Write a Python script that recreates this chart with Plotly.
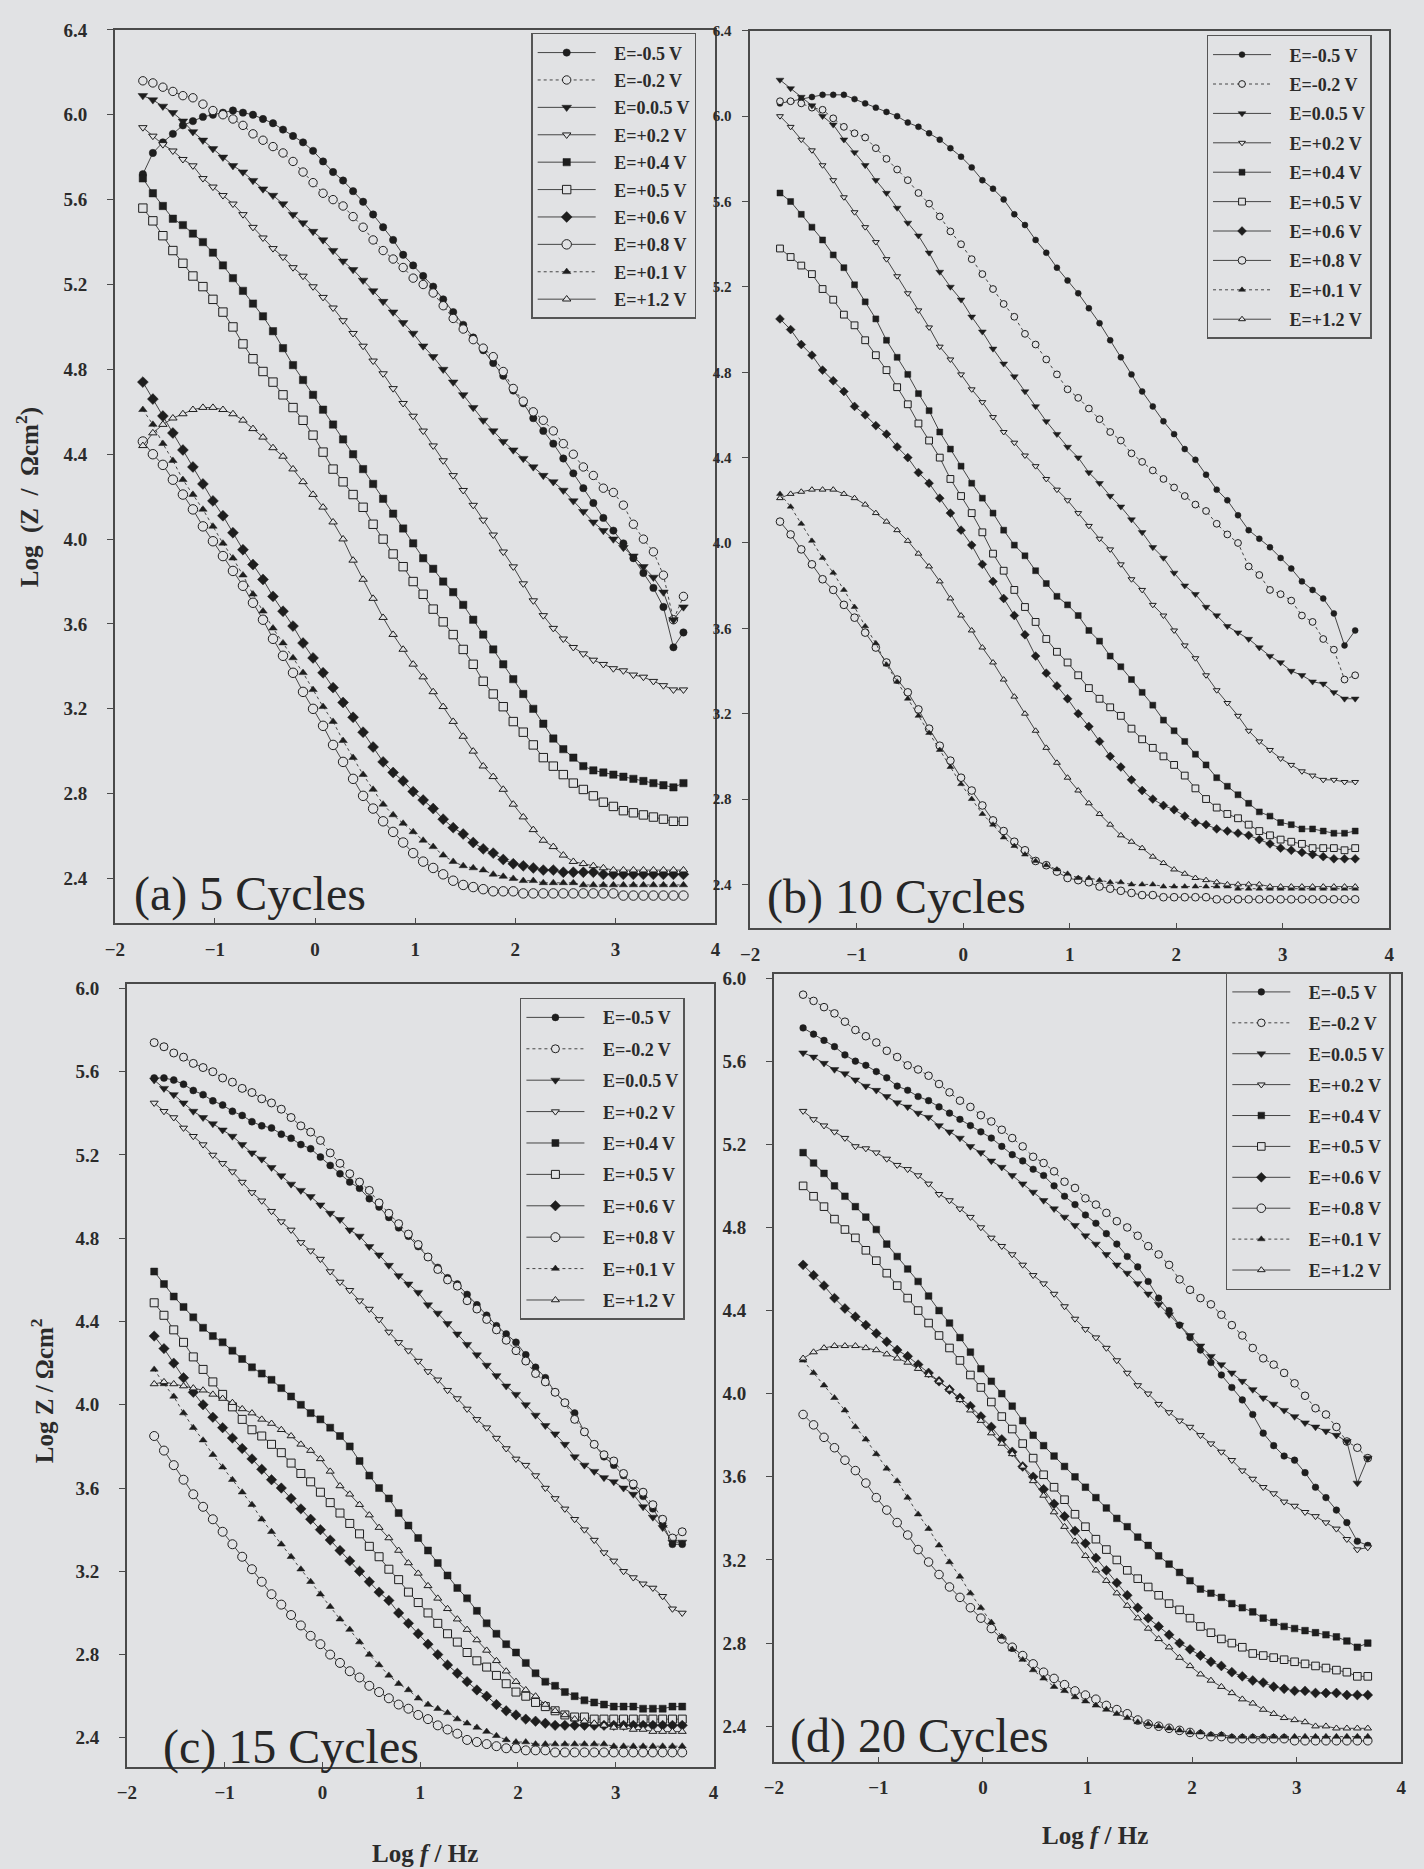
import plotly.graph_objects as go

# ---------------- data ----------------
LOG_F = [-1.72, -1.62, -1.52, -1.42, -1.32, -1.22, -1.12, -1.02, -0.92, -0.82, -0.72,
         -0.62, -0.52, -0.42, -0.32, -0.22, -0.12, -0.02, 0.08, 0.18, 0.28, 0.38,
         0.48, 0.58, 0.68, 0.78, 0.88, 0.98, 1.08, 1.18, 1.28, 1.38, 1.48,
         1.58, 1.68, 1.78, 1.88, 1.98, 2.08, 2.18, 2.28, 2.38, 2.48, 2.58,
         2.68, 2.78, 2.88, 2.98, 3.08, 3.18, 3.28, 3.38, 3.48, 3.58, 3.68]

LABELS = ["E=-0.5 V", "E=-0.2 V", "E=0.0.5 V", "E=+0.2 V", "E=+0.4 V",
          "E=+0.5 V", "E=+0.6 V", "E=+0.8 V", "E=+0.1 V", "E=+1.2 V"]

# (a) 5 cycles
A_M05 = [5.72, 5.82, 5.87, 5.91, 5.95, 5.97, 5.99, 6.00, 6.01, 6.02, 6.01,
         6.00, 5.98, 5.96, 5.93, 5.90, 5.87, 5.83, 5.78, 5.73, 5.69, 5.64,
         5.59, 5.53, 5.47, 5.41, 5.34, 5.29, 5.24, 5.19, 5.13, 5.07, 5.01,
         4.95, 4.89, 4.83, 4.77, 4.70, 4.64, 4.57, 4.51, 4.45, 4.38, 4.31,
         4.24, 4.17, 4.10, 4.04, 3.98, 3.91, 3.84, 3.77, 3.68, 3.49, 3.56]
A_M02 = [6.16, 6.15, 6.13, 6.11, 6.09, 6.08, 6.05, 6.02, 6.00, 5.98, 5.95,
         5.91, 5.88, 5.85, 5.82, 5.78, 5.73, 5.68, 5.63, 5.60, 5.57, 5.52,
         5.47, 5.41, 5.36, 5.32, 5.28, 5.23, 5.20, 5.16, 5.10, 5.04, 4.99,
         4.94, 4.90, 4.86, 4.79, 4.71, 4.65, 4.60, 4.56, 4.51, 4.45, 4.40,
         4.34, 4.30, 4.24, 4.22, 4.16, 4.07, 4.00, 3.94, 3.83, 3.62, 3.73]
A_005 = [6.09, 6.07, 6.04, 6.01, 5.97, 5.92, 5.88, 5.84, 5.80, 5.76, 5.73,
         5.69, 5.65, 5.62, 5.58, 5.53, 5.49, 5.45, 5.41, 5.36, 5.31, 5.27,
         5.22, 5.17, 5.12, 5.07, 5.02, 4.97, 4.91, 4.86, 4.80, 4.74, 4.68,
         4.62, 4.56, 4.51, 4.46, 4.42, 4.38, 4.34, 4.30, 4.27, 4.23, 4.18,
         4.13, 4.08, 4.04, 4.00, 3.96, 3.92, 3.87, 3.82, 3.75, 3.62, 3.68]
A_P02 = [5.94, 5.90, 5.86, 5.83, 5.79, 5.76, 5.70, 5.66, 5.62, 5.58, 5.53,
         5.47, 5.42, 5.37, 5.33, 5.28, 5.24, 5.19, 5.14, 5.09, 5.03, 4.97,
         4.91, 4.84, 4.78, 4.71, 4.64, 4.58, 4.51, 4.44, 4.37, 4.30, 4.23,
         4.16, 4.09, 4.02, 3.94, 3.87, 3.79, 3.71, 3.64, 3.58, 3.53, 3.49,
         3.46, 3.43, 3.41, 3.39, 3.38, 3.36, 3.35, 3.33, 3.31, 3.29, 3.29]
A_P04 = [5.70, 5.63, 5.57, 5.51, 5.48, 5.44, 5.40, 5.35, 5.29, 5.23, 5.17,
         5.11, 5.05, 4.98, 4.90, 4.82, 4.75, 4.68, 4.61, 4.54, 4.47, 4.40,
         4.33, 4.26, 4.19, 4.12, 4.05, 3.98, 3.91, 3.86, 3.80, 3.75, 3.69,
         3.62, 3.55, 3.48, 3.41, 3.34, 3.27, 3.20, 3.13, 3.06, 3.01, 2.97,
         2.93, 2.91, 2.90, 2.89, 2.88, 2.87, 2.86, 2.85, 2.84, 2.83, 2.85]
A_P05 = [5.56, 5.50, 5.43, 5.36, 5.30, 5.24, 5.19, 5.13, 5.07, 5.00, 4.92,
         4.85, 4.79, 4.74, 4.68, 4.62, 4.56, 4.49, 4.41, 4.33, 4.27, 4.21,
         4.15, 4.07, 4.00, 3.93, 3.87, 3.80, 3.74, 3.67, 3.61, 3.55, 3.48,
         3.41, 3.33, 3.27, 3.21, 3.14, 3.09, 3.03, 2.97, 2.93, 2.89, 2.85,
         2.82, 2.79, 2.76, 2.74, 2.72, 2.71, 2.70, 2.69, 2.68, 2.67, 2.67]
A_P06 = [4.74, 4.66, 4.58, 4.50, 4.42, 4.34, 4.26, 4.18, 4.11, 4.03, 3.95,
         3.88, 3.81, 3.73, 3.66, 3.59, 3.51, 3.44, 3.37, 3.30, 3.23, 3.16,
         3.09, 3.02, 2.95, 2.90, 2.86, 2.81, 2.77, 2.73, 2.68, 2.64, 2.61,
         2.57, 2.54, 2.52, 2.49, 2.47, 2.46, 2.45, 2.44, 2.44, 2.43, 2.43,
         2.43, 2.43, 2.42, 2.42, 2.42, 2.42, 2.42, 2.42, 2.42, 2.42, 2.42]
A_P08 = [4.46, 4.40, 4.35, 4.28, 4.21, 4.14, 4.06, 3.99, 3.92, 3.85, 3.78,
         3.70, 3.62, 3.53, 3.45, 3.37, 3.28, 3.20, 3.12, 3.03, 2.95, 2.87,
         2.79, 2.73, 2.67, 2.62, 2.57, 2.52, 2.48, 2.45, 2.42, 2.39, 2.37,
         2.36, 2.35, 2.34, 2.34, 2.34, 2.33, 2.33, 2.33, 2.33, 2.33, 2.33,
         2.33, 2.33, 2.33, 2.33, 2.32, 2.32, 2.32, 2.32, 2.32, 2.32, 2.32]
A_P01 = [4.61, 4.54, 4.45, 4.37, 4.28, 4.21, 4.14, 4.06, 3.98, 3.91, 3.83,
         3.74, 3.66, 3.58, 3.51, 3.44, 3.37, 3.29, 3.21, 3.14, 3.05, 2.97,
         2.89, 2.82, 2.75, 2.70, 2.66, 2.62, 2.58, 2.55, 2.51, 2.48, 2.46,
         2.45, 2.44, 2.42, 2.41, 2.40, 2.39, 2.39, 2.38, 2.38, 2.38, 2.38,
         2.37, 2.37, 2.37, 2.37, 2.37, 2.37, 2.37, 2.37, 2.37, 2.37, 2.37]
A_P12 = [4.44, 4.50, 4.54, 4.57, 4.59, 4.61, 4.62, 4.62, 4.61, 4.59, 4.56,
         4.52, 4.48, 4.43, 4.39, 4.33, 4.27, 4.21, 4.15, 4.08, 4.00, 3.90,
         3.81, 3.72, 3.63, 3.55, 3.48, 3.41, 3.35, 3.28, 3.21, 3.14, 3.07,
         3.00, 2.93, 2.88, 2.82, 2.75, 2.69, 2.63, 2.58, 2.55, 2.51, 2.48,
         2.47, 2.46, 2.45, 2.44, 2.44, 2.44, 2.44, 2.44, 2.44, 2.44, 2.44]

# (b) 10 cycles
B_M05 = [6.06, 6.07, 6.08, 6.09, 6.10, 6.10, 6.10, 6.08, 6.06, 6.04, 6.02,
         6.00, 5.97, 5.95, 5.92, 5.89, 5.85, 5.81, 5.76, 5.70, 5.66, 5.61,
         5.54, 5.49, 5.42, 5.36, 5.29, 5.23, 5.17, 5.10, 5.03, 4.95, 4.87,
         4.79, 4.71, 4.64, 4.57, 4.51, 4.44, 4.39, 4.32, 4.25, 4.20, 4.13,
         4.06, 4.02, 3.98, 3.93, 3.88, 3.82, 3.78, 3.74, 3.67, 3.52, 3.59]
B_M02 = [6.07, 6.07, 6.06, 6.04, 6.03, 5.99, 5.95, 5.92, 5.90, 5.85, 5.80,
         5.75, 5.70, 5.64, 5.59, 5.53, 5.46, 5.40, 5.33, 5.26, 5.19, 5.12,
         5.06, 4.98, 4.93, 4.86, 4.79, 4.72, 4.68, 4.63, 4.58, 4.52, 4.48,
         4.42, 4.38, 4.34, 4.30, 4.26, 4.22, 4.18, 4.15, 4.09, 4.04, 4.00,
         3.89, 3.85, 3.78, 3.76, 3.73, 3.66, 3.63, 3.55, 3.50, 3.36, 3.38]
B_005 = [6.17, 6.13, 6.09, 6.05, 6.00, 5.96, 5.89, 5.83, 5.77, 5.70, 5.64,
         5.57, 5.50, 5.44, 5.36, 5.27, 5.20, 5.14, 5.06, 4.99, 4.91, 4.84,
         4.78, 4.71, 4.64, 4.57, 4.51, 4.45, 4.40, 4.33, 4.28, 4.22, 4.17,
         4.11, 4.05, 3.98, 3.93, 3.86, 3.80, 3.76, 3.70, 3.66, 3.61, 3.58,
         3.55, 3.51, 3.47, 3.44, 3.40, 3.38, 3.35, 3.34, 3.30, 3.27, 3.27]
B_P02 = [6.00, 5.95, 5.89, 5.84, 5.77, 5.70, 5.62, 5.55, 5.48, 5.41, 5.33,
         5.25, 5.17, 5.09, 5.01, 4.92, 4.86, 4.79, 4.72, 4.66, 4.59, 4.52,
         4.47, 4.41, 4.36, 4.30, 4.25, 4.20, 4.14, 4.08, 4.02, 3.97, 3.90,
         3.83, 3.78, 3.71, 3.66, 3.59, 3.52, 3.46, 3.38, 3.31, 3.25, 3.19,
         3.12, 3.07, 3.03, 2.99, 2.96, 2.93, 2.91, 2.89, 2.89, 2.88, 2.88]
B_P04 = [5.64, 5.60, 5.54, 5.48, 5.42, 5.35, 5.29, 5.21, 5.13, 5.05, 4.95,
         4.87, 4.79, 4.70, 4.62, 4.52, 4.44, 4.36, 4.28, 4.21, 4.14, 4.06,
         3.99, 3.94, 3.87, 3.81, 3.75, 3.71, 3.66, 3.59, 3.54, 3.47, 3.42,
         3.36, 3.30, 3.24, 3.17, 3.12, 3.07, 3.01, 2.96, 2.90, 2.86, 2.82,
         2.78, 2.74, 2.72, 2.69, 2.68, 2.66, 2.66, 2.65, 2.64, 2.64, 2.65]
B_P05 = [5.38, 5.34, 5.30, 5.26, 5.19, 5.14, 5.07, 5.02, 4.95, 4.88, 4.81,
         4.73, 4.65, 4.56, 4.48, 4.40, 4.30, 4.22, 4.14, 4.05, 3.95, 3.87,
         3.78, 3.70, 3.63, 3.55, 3.49, 3.44, 3.38, 3.32, 3.27, 3.23, 3.19,
         3.13, 3.08, 3.04, 3.00, 2.96, 2.91, 2.85, 2.80, 2.76, 2.73, 2.71,
         2.68, 2.65, 2.63, 2.61, 2.60, 2.59, 2.57, 2.57, 2.57, 2.56, 2.57]
B_P06 = [5.05, 5.00, 4.93, 4.88, 4.81, 4.76, 4.71, 4.64, 4.60, 4.55, 4.51,
         4.45, 4.40, 4.33, 4.28, 4.21, 4.14, 4.06, 3.99, 3.90, 3.82, 3.74,
         3.66, 3.57, 3.47, 3.39, 3.33, 3.27, 3.20, 3.14, 3.07, 3.00, 2.95,
         2.89, 2.84, 2.80, 2.77, 2.75, 2.72, 2.69, 2.68, 2.66, 2.65, 2.64,
         2.63, 2.61, 2.59, 2.57, 2.56, 2.55, 2.54, 2.53, 2.52, 2.52, 2.52]
B_P08 = [4.10, 4.04, 3.97, 3.90, 3.83, 3.78, 3.71, 3.65, 3.58, 3.51, 3.44,
         3.36, 3.30, 3.22, 3.13, 3.05, 2.98, 2.90, 2.84, 2.77, 2.70, 2.65,
         2.60, 2.56, 2.51, 2.49, 2.46, 2.43, 2.42, 2.41, 2.39, 2.38, 2.37,
         2.36, 2.35, 2.35, 2.34, 2.34, 2.34, 2.34, 2.34, 2.33, 2.33, 2.33,
         2.33, 2.33, 2.33, 2.33, 2.33, 2.33, 2.33, 2.33, 2.33, 2.33, 2.33]
B_P01 = [4.23, 4.17, 4.09, 4.01, 3.93, 3.86, 3.78, 3.70, 3.61, 3.53, 3.43,
         3.35, 3.27, 3.19, 3.11, 3.03, 2.95, 2.87, 2.80, 2.73, 2.68, 2.62,
         2.58, 2.54, 2.51, 2.49, 2.47, 2.45, 2.43, 2.43, 2.42, 2.41, 2.41,
         2.40, 2.40, 2.40, 2.39, 2.39, 2.39, 2.39, 2.39, 2.39, 2.39, 2.38,
         2.38, 2.38, 2.38, 2.38, 2.38, 2.38, 2.38, 2.38, 2.38, 2.38, 2.38]
B_P12 = [4.21, 4.23, 4.24, 4.25, 4.25, 4.25, 4.23, 4.21, 4.18, 4.14, 4.10,
         4.06, 4.01, 3.95, 3.89, 3.82, 3.74, 3.66, 3.59, 3.51, 3.44, 3.36,
         3.28, 3.20, 3.12, 3.04, 2.97, 2.90, 2.84, 2.78, 2.73, 2.68, 2.63,
         2.60, 2.57, 2.53, 2.50, 2.47, 2.45, 2.43, 2.42, 2.41, 2.40, 2.40,
         2.40, 2.40, 2.39, 2.39, 2.39, 2.39, 2.39, 2.39, 2.39, 2.39, 2.39]

# (c) 15 cycles
C_M05 = [5.57, 5.57, 5.56, 5.54, 5.51, 5.49, 5.46, 5.44, 5.41, 5.39, 5.36,
         5.34, 5.33, 5.30, 5.28, 5.25, 5.23, 5.19, 5.15, 5.11, 5.07, 5.04,
         4.99, 4.95, 4.90, 4.85, 4.81, 4.76, 4.71, 4.66, 4.61, 4.58, 4.53,
         4.48, 4.43, 4.38, 4.34, 4.30, 4.24, 4.18, 4.13, 4.06, 4.01, 3.96,
         3.87, 3.81, 3.75, 3.71, 3.66, 3.61, 3.56, 3.50, 3.43, 3.33, 3.33]
C_M02 = [5.74, 5.72, 5.69, 5.67, 5.64, 5.62, 5.60, 5.57, 5.55, 5.52, 5.50,
         5.47, 5.45, 5.42, 5.38, 5.34, 5.31, 5.27, 5.21, 5.16, 5.11, 5.07,
         5.03, 4.97, 4.92, 4.87, 4.82, 4.77, 4.71, 4.65, 4.60, 4.57, 4.50,
         4.46, 4.41, 4.36, 4.31, 4.26, 4.21, 4.15, 4.11, 4.06, 4.01, 3.93,
         3.87, 3.81, 3.76, 3.73, 3.67, 3.62, 3.58, 3.52, 3.45, 3.36, 3.39]
C_005 = [5.56, 5.52, 5.49, 5.45, 5.41, 5.38, 5.35, 5.32, 5.29, 5.25, 5.21,
         5.18, 5.14, 5.10, 5.06, 5.03, 5.00, 4.96, 4.92, 4.89, 4.84, 4.81,
         4.76, 4.72, 4.67, 4.62, 4.58, 4.54, 4.48, 4.44, 4.39, 4.34, 4.29,
         4.24, 4.19, 4.14, 4.09, 4.05, 4.00, 3.95, 3.90, 3.86, 3.81, 3.75,
         3.71, 3.68, 3.65, 3.63, 3.60, 3.57, 3.51, 3.46, 3.41, 3.34, 3.34]
C_P02 = [5.45, 5.41, 5.38, 5.33, 5.29, 5.25, 5.20, 5.16, 5.12, 5.07, 5.02,
         4.98, 4.93, 4.88, 4.84, 4.78, 4.74, 4.70, 4.64, 4.59, 4.55, 4.50,
         4.46, 4.41, 4.35, 4.30, 4.26, 4.21, 4.16, 4.12, 4.07, 4.03, 3.98,
         3.93, 3.89, 3.84, 3.79, 3.74, 3.71, 3.66, 3.60, 3.55, 3.50, 3.45,
         3.40, 3.35, 3.29, 3.25, 3.20, 3.17, 3.14, 3.12, 3.08, 3.02, 3.00]
C_P04 = [4.64, 4.58, 4.52, 4.47, 4.42, 4.37, 4.33, 4.30, 4.26, 4.22, 4.18,
         4.15, 4.12, 4.08, 4.04, 4.00, 3.96, 3.93, 3.89, 3.85, 3.80, 3.73,
         3.66, 3.60, 3.55, 3.48, 3.42, 3.36, 3.30, 3.24, 3.18, 3.12, 3.07,
         3.01, 2.95, 2.90, 2.85, 2.81, 2.76, 2.71, 2.67, 2.65, 2.62, 2.60,
         2.58, 2.57, 2.56, 2.55, 2.55, 2.55, 2.54, 2.54, 2.54, 2.55, 2.55]
C_P05 = [4.49, 4.43, 4.36, 4.30, 4.23, 4.17, 4.11, 4.05, 3.99, 3.93, 3.88,
         3.85, 3.81, 3.77, 3.72, 3.67, 3.63, 3.58, 3.53, 3.48, 3.43, 3.38,
         3.32, 3.27, 3.21, 3.16, 3.10, 3.05, 3.00, 2.95, 2.90, 2.86, 2.81,
         2.77, 2.74, 2.70, 2.66, 2.62, 2.60, 2.57, 2.55, 2.53, 2.51, 2.50,
         2.50, 2.49, 2.49, 2.49, 2.49, 2.49, 2.49, 2.49, 2.49, 2.49, 2.49]
C_P06 = [4.33, 4.27, 4.20, 4.13, 4.06, 4.00, 3.94, 3.89, 3.84, 3.79, 3.74,
         3.69, 3.64, 3.60, 3.55, 3.50, 3.45, 3.40, 3.35, 3.30, 3.25, 3.20,
         3.15, 3.10, 3.06, 3.00, 2.95, 2.90, 2.85, 2.80, 2.75, 2.71, 2.67,
         2.63, 2.60, 2.56, 2.53, 2.51, 2.49, 2.48, 2.47, 2.46, 2.46, 2.46,
         2.46, 2.46, 2.46, 2.46, 2.46, 2.46, 2.46, 2.46, 2.46, 2.46, 2.46]
C_P08 = [3.85, 3.78, 3.71, 3.64, 3.57, 3.51, 3.45, 3.39, 3.33, 3.27, 3.21,
         3.15, 3.09, 3.04, 2.99, 2.94, 2.89, 2.85, 2.80, 2.76, 2.72, 2.69,
         2.65, 2.62, 2.59, 2.56, 2.54, 2.51, 2.49, 2.46, 2.44, 2.42, 2.39,
         2.38, 2.37, 2.36, 2.35, 2.35, 2.34, 2.34, 2.34, 2.33, 2.33, 2.33,
         2.33, 2.33, 2.33, 2.33, 2.33, 2.33, 2.33, 2.33, 2.33, 2.33, 2.33]
C_P01 = [4.17, 4.10, 4.04, 3.96, 3.89, 3.83, 3.76, 3.70, 3.64, 3.58, 3.52,
         3.45, 3.39, 3.33, 3.27, 3.21, 3.15, 3.09, 3.03, 2.97, 2.92, 2.86,
         2.80, 2.75, 2.70, 2.66, 2.63, 2.59, 2.56, 2.54, 2.52, 2.49, 2.47,
         2.45, 2.43, 2.41, 2.39, 2.38, 2.38, 2.37, 2.37, 2.37, 2.37, 2.37,
         2.37, 2.37, 2.37, 2.36, 2.36, 2.36, 2.36, 2.36, 2.36, 2.36, 2.36]
C_P12 = [4.10, 4.11, 4.10, 4.09, 4.08, 4.07, 4.05, 4.03, 4.01, 3.98, 3.96,
         3.93, 3.91, 3.88, 3.85, 3.81, 3.78, 3.74, 3.68, 3.61, 3.57, 3.52,
         3.47, 3.41, 3.36, 3.30, 3.24, 3.19, 3.13, 3.07, 3.02, 2.97, 2.92,
         2.87, 2.82, 2.77, 2.72, 2.67, 2.63, 2.60, 2.56, 2.53, 2.51, 2.49,
         2.48, 2.47, 2.46, 2.45, 2.45, 2.44, 2.44, 2.43, 2.43, 2.43, 2.43]

# (d) 20 cycles
D_M05 = [5.76, 5.73, 5.70, 5.67, 5.63, 5.60, 5.58, 5.55, 5.52, 5.48, 5.46,
         5.43, 5.41, 5.38, 5.35, 5.32, 5.29, 5.26, 5.23, 5.19, 5.15, 5.12,
         5.08, 5.05, 5.00, 4.95, 4.91, 4.86, 4.82, 4.77, 4.72, 4.66, 4.61,
         4.54, 4.46, 4.40, 4.33, 4.27, 4.21, 4.15, 4.09, 4.03, 3.97, 3.90,
         3.81, 3.75, 3.70, 3.68, 3.62, 3.55, 3.50, 3.44, 3.38, 3.29, 3.27]
D_M02 = [5.92, 5.89, 5.86, 5.83, 5.79, 5.75, 5.72, 5.69, 5.65, 5.62, 5.58,
         5.56, 5.53, 5.49, 5.45, 5.41, 5.38, 5.34, 5.31, 5.27, 5.23, 5.19,
         5.14, 5.11, 5.07, 5.02, 4.99, 4.94, 4.91, 4.87, 4.83, 4.80, 4.76,
         4.71, 4.67, 4.62, 4.55, 4.50, 4.46, 4.43, 4.38, 4.33, 4.28, 4.22,
         4.17, 4.14, 4.10, 4.05, 3.99, 3.93, 3.90, 3.84, 3.77, 3.74, 3.69]
D_005 = [5.64, 5.62, 5.59, 5.56, 5.54, 5.51, 5.48, 5.46, 5.43, 5.40, 5.38,
         5.35, 5.33, 5.29, 5.26, 5.23, 5.19, 5.16, 5.12, 5.09, 5.05, 5.01,
         4.97, 4.93, 4.89, 4.85, 4.81, 4.76, 4.72, 4.67, 4.62, 4.58, 4.53,
         4.48, 4.43, 4.38, 4.33, 4.28, 4.23, 4.18, 4.14, 4.10, 4.06, 4.02,
         3.98, 3.95, 3.92, 3.89, 3.86, 3.84, 3.82, 3.80, 3.77, 3.57, 3.69]
D_P02 = [5.36, 5.32, 5.29, 5.26, 5.23, 5.19, 5.18, 5.16, 5.13, 5.10, 5.08,
         5.05, 5.01, 4.96, 4.93, 4.89, 4.85, 4.80, 4.75, 4.71, 4.67, 4.62,
         4.57, 4.53, 4.48, 4.42, 4.36, 4.31, 4.27, 4.22, 4.16, 4.10, 4.04,
         4.00, 3.95, 3.91, 3.87, 3.84, 3.80, 3.76, 3.72, 3.68, 3.63, 3.59,
         3.55, 3.52, 3.48, 3.46, 3.43, 3.41, 3.38, 3.35, 3.30, 3.25, 3.26]
D_P04 = [5.16, 5.11, 5.06, 5.00, 4.95, 4.90, 4.85, 4.79, 4.72, 4.66, 4.60,
         4.54, 4.47, 4.40, 4.34, 4.27, 4.20, 4.12, 4.06, 4.00, 3.94, 3.87,
         3.80, 3.75, 3.70, 3.65, 3.60, 3.55, 3.50, 3.45, 3.40, 3.36, 3.31,
         3.27, 3.22, 3.18, 3.14, 3.10, 3.06, 3.04, 3.02, 2.99, 2.97, 2.95,
         2.92, 2.90, 2.88, 2.87, 2.86, 2.85, 2.84, 2.83, 2.81, 2.78, 2.80]
D_P05 = [5.00, 4.95, 4.90, 4.84, 4.79, 4.75, 4.69, 4.64, 4.58, 4.52, 4.46,
         4.40, 4.34, 4.28, 4.22, 4.16, 4.09, 4.03, 3.96, 3.89, 3.83, 3.76,
         3.69, 3.61, 3.55, 3.49, 3.42, 3.36, 3.30, 3.25, 3.20, 3.15, 3.11,
         3.07, 3.03, 2.99, 2.96, 2.92, 2.88, 2.85, 2.82, 2.80, 2.78, 2.75,
         2.74, 2.73, 2.72, 2.71, 2.70, 2.69, 2.68, 2.67, 2.66, 2.64, 2.64]
D_P06 = [4.62, 4.57, 4.52, 4.46, 4.41, 4.37, 4.33, 4.29, 4.25, 4.21, 4.18,
         4.14, 4.10, 4.06, 4.02, 3.98, 3.94, 3.89, 3.84, 3.78, 3.72, 3.65,
         3.60, 3.54, 3.47, 3.41, 3.34, 3.28, 3.21, 3.15, 3.09, 3.03, 2.97,
         2.92, 2.88, 2.84, 2.80, 2.77, 2.74, 2.71, 2.69, 2.66, 2.64, 2.62,
         2.61, 2.59, 2.58, 2.57, 2.57, 2.56, 2.56, 2.56, 2.55, 2.55, 2.55]
D_P08 = [3.90, 3.85, 3.79, 3.74, 3.68, 3.63, 3.57, 3.50, 3.44, 3.38, 3.32,
         3.25, 3.19, 3.13, 3.07, 3.02, 2.97, 2.92, 2.87, 2.82, 2.78, 2.74,
         2.70, 2.66, 2.63, 2.60, 2.57, 2.55, 2.53, 2.50, 2.48, 2.46, 2.43,
         2.41, 2.40, 2.39, 2.38, 2.37, 2.36, 2.35, 2.35, 2.34, 2.34, 2.34,
         2.34, 2.34, 2.34, 2.33, 2.33, 2.33, 2.33, 2.33, 2.33, 2.33, 2.33]
D_P01 = [4.16, 4.10, 4.04, 3.98, 3.92, 3.84, 3.78, 3.71, 3.64, 3.58, 3.50,
         3.42, 3.35, 3.27, 3.19, 3.12, 3.04, 2.97, 2.90, 2.83, 2.77, 2.72,
         2.67, 2.63, 2.59, 2.57, 2.54, 2.52, 2.50, 2.48, 2.46, 2.44, 2.42,
         2.41, 2.40, 2.39, 2.38, 2.37, 2.37, 2.36, 2.36, 2.35, 2.35, 2.35,
         2.35, 2.35, 2.35, 2.35, 2.35, 2.35, 2.35, 2.35, 2.35, 2.35, 2.35]
D_P12 = [4.17, 4.20, 4.22, 4.23, 4.23, 4.23, 4.22, 4.21, 4.19, 4.17, 4.15,
         4.12, 4.09, 4.06, 4.02, 3.97, 3.92, 3.87, 3.81, 3.76, 3.71, 3.65,
         3.58, 3.51, 3.43, 3.36, 3.29, 3.22, 3.15, 3.10, 3.04, 2.98, 2.92,
         2.87, 2.82, 2.78, 2.73, 2.69, 2.65, 2.62, 2.59, 2.56, 2.53, 2.51,
         2.48, 2.46, 2.44, 2.43, 2.42, 2.40, 2.40, 2.39, 2.39, 2.39, 2.39]

PANEL_DATA = {
    "a": [A_M05, A_M02, A_005, A_P02, A_P04, A_P05, A_P06, A_P08, A_P01, A_P12],
    "b": [B_M05, B_M02, B_005, B_P02, B_P04, B_P05, B_P06, B_P08, B_P01, B_P12],
    "c": [C_M05, C_M02, C_005, C_P02, C_P04, C_P05, C_P06, C_P08, C_P01, C_P12],
    "d": [D_M05, D_M02, D_005, D_P02, D_P04, D_P05, D_P06, D_P08, D_P01, D_P12],
}
PANEL_TITLES = {"a": "(a) 5 Cycles", "b": "(b) 10 Cycles",
                "c": "(c) 15 Cycles", "d": "(d) 20 Cycles"}

# ---------------- style ----------------
BG = "#e1e2e4"
INK = "#1e1e1e"
AXC = "#4a4a4a"
SERIF = "Liberation Serif"
LEAD = "\u00a0\u00a0\u00a0"

# symbol, filled, size, dash
STYLES = [
    ("circle", True, 7, "solid"),
    ("circle", False, 8, "dot"),
    ("triangle-down", True, 8, "solid"),
    ("triangle-down", False, 7, "solid"),
    ("square", True, 7, "solid"),
    ("square", False, 8, "solid"),
    ("diamond", True, 8, "solid"),
    ("circle", False, 9, "solid"),
    ("triangle-up", True, 7, "dot"),
    ("triangle-up", False, 7, "solid"),
]

PANEL_AXES = {"a": ("x", "y", "legend", 1.05),
              "b": ("x2", "y2", "legend2", 0.85),
              "c": ("x3", "y3", "legend3", 1.0),
              "d": ("x4", "y4", "legend4", 0.95)}

fig = go.Figure()
for key, series in PANEL_DATA.items():
    xa, ya, lg, scale = PANEL_AXES[key]
    for i, (vals, lab) in enumerate(zip(series, LABELS)):
        sym, filled, size, dash = STYLES[i]
        fig.add_trace(go.Scatter(
            x=LOG_F, y=vals, xaxis=xa, yaxis=ya, name=LEAD + lab,
            mode="lines+markers", legend=lg, legendgroup=f"{key}{i}",
            line=dict(color="#333333", width=0.9, dash=dash),
            marker=dict(symbol=sym, size=size * scale,
                        color=INK if filled else BG,
                        line=dict(color=INK, width=1.0 if not filled else 0.5)),
        ))

tickfont = dict(family=SERIF, size=19, color="#2b2b2b", weight="bold")


def xax(domain, anchor):
    return dict(domain=domain, anchor=anchor, range=[-2, 4], dtick=1, tick0=-2,
                showline=True, mirror=True, linecolor=AXC, linewidth=1.5,
                ticks="inside", ticklen=5, tickcolor=AXC, showgrid=False,
                zeroline=False, tickfont=tickfont, ticklabelstandoff=8)


def yax(domain, anchor, rng, fsize=19, standoff=16):
    return dict(domain=domain, anchor=anchor, range=rng, dtick=0.4, tick0=2.4,
                tickformat=".1f", showline=True, mirror=True, linecolor=AXC,
                linewidth=1.5, ticks="outside", ticklen=6, tickcolor=AXC,
                showgrid=False, zeroline=False, ticklabelstandoff=standoff,
                tickfont=dict(family=SERIF, size=fsize, color="#2b2b2b", weight="bold"))


legfont = dict(family=SERIF, size=18, color="#2b2b2b", weight="bold")


def leg(x, y, gap):
    return dict(x=x, y=y, xanchor="right", yanchor="top", bgcolor=BG,
                bordercolor="#555555", borderwidth=1.5, font=legfont,
                tracegroupgap=gap, traceorder="grouped", itemwidth=58)


annotations = []
label_pos = {"a": ("x", "y", 0.028, 0.0), "b": ("x2", "y2", 0.023, 0.002),
             "c": ("x3", "y3", 0.058, -0.012), "d": ("x4", "y4", 0.023, -0.004)}
for key, (xa, ya, lx, ly) in label_pos.items():
    annotations.append(dict(text=PANEL_TITLES[key], xref=f"{xa} domain",
                            yref=f"{ya} domain", x=lx, y=ly, xanchor="left",
                            yanchor="bottom", showarrow=False,
                            font=dict(family=SERIF, size=48, color="#262626")))

titlefont = dict(family=SERIF, size=25, color="#2b2b2b", weight="bold")
annotations += [
    dict(text="Log  (Z  /  \u03a9cm<sup>2</sup>)", xref="paper", yref="paper",
         x=0.0126, y=0.7378, xanchor="center", yanchor="middle",
         textangle=-90, showarrow=False, font=titlefont),
    dict(text="Log Z / \u03a9cm<sup>2</sup>", xref="paper", yref="paper",
         x=0.0232, y=0.2574, xanchor="center", yanchor="middle",
         textangle=-90, showarrow=False, font=titlefont),
    dict(text="Log <i>f</i> / Hz", xref="paper", yref="paper",
         x=0.2945, y=0.0086, xanchor="center", yanchor="middle",
         showarrow=False, font=titlefont),
    dict(text="Log <i>f</i> / Hz", xref="paper", yref="paper",
         x=0.7697, y=0.0182, xanchor="center", yanchor="middle",
         showarrow=False, font=titlefont),
]

fig.update_layout(
    width=1424, height=1869, margin=dict(l=0, r=0, t=0, b=0),
    paper_bgcolor=BG, plot_bgcolor=BG, showlegend=True,
    xaxis=xax([0.0744, 0.5007], "y"),
    yaxis=yax([0.5088, 0.9893], "x", [2.19, 6.4]),
    xaxis2=xax([0.5253, 0.9789], "y2"),
    yaxis2=yax([0.5061, 0.9888], "x2", [2.195, 6.4], 15, 8),
    xaxis3=xax([0.0829, 0.4993], "y3"),
    yaxis3=yax([0.0551, 0.4759], "x3", [2.262, 6.02]),
    xaxis4=xax([0.5421, 0.9874], "y4"),
    yaxis4=yax([0.0578, 0.4815], "x4", [2.23, 6.02]),
    legend=leg(0.4870, 0.9877, 1),
    legend2=leg(0.9663, 0.9866, 3),
    legend3=leg(0.4790, 0.4687, 5),
    legend4=leg(0.9800, 0.4824, 4.5),
    annotations=annotations,
)

fig.write_html("out.html")
